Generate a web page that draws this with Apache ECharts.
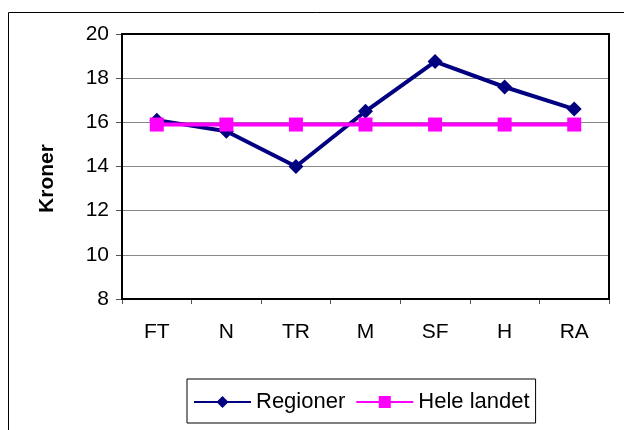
<!DOCTYPE html>
<html>
<head>
<meta charset="utf-8">
<script src="https://cdn.jsdelivr.net/npm/echarts@6/dist/echarts.min.js"></script>
<style>
    html, body { margin: 0; padding: 0; background: #fff; }
    #main { width: 624px; height: 430px; }
</style>
</head>
<body>
<div id="main"></div>
<script>
    var categories = ['FT', 'N', 'TR', 'M', 'SF', 'H', 'RA'];
    var regioner = [16.1, 15.6, 14.0, 16.5, 18.75, 17.6, 16.6];
    var heleLandet = [15.9, 15.9, 15.9, 15.9, 15.9, 15.9, 15.9];
    var seriesNames = ['Regioner', 'Hele landet'];

    var font = 'Arial, "Liberation Sans", sans-serif';

    var chart = echarts.init(document.getElementById('main'));

    var option = {
        animation: false,
        backgroundColor: '#fff',
        graphic: [
            {   // ytre ramme
                type: 'rect',
                shape: {x: 8.5, y: 12.5, width: 640, height: 440},
                style: {fill: null, stroke: '#000', lineWidth: 1}
            },
            {   // ramme rundt plottet
                type: 'rect',
                shape: {x: 122, y: 34, width: 487, height: 265},
                style: {fill: null, stroke: '#000', lineWidth: 2},
                z: 10
            }
        ],
        grid: {
            left: 122,
            right: 15,
            top: 34,
            bottom: 131
        },
        legend: {
            data: seriesNames,
            left: 187,
            top: 379,
            width: 352,
            height: 47,
            padding: [12, 6, 10, 6],
            itemGap: 10,
            itemWidth: 57,
            itemHeight: 15,
            borderColor: '#000',
            borderWidth: 1,
            textStyle: {fontFamily: font, fontSize: 22, color: '#000'}
        },
        xAxis: {
            type: 'category',
            data: categories,
            boundaryGap: true,
            axisLine: {lineStyle: {color: '#000', width: 2}},
            axisTick: {show: true, length: 5, lineStyle: {color: '#555'}},
            axisLabel: {fontFamily: font, fontSize: 21, color: '#000', margin: 23}
        },
        yAxis: {
            type: 'value',
            min: 8,
            max: 20,
            interval: 2,
            name: 'Kroner',
            nameLocation: 'middle',
            nameGap: 64,
            nameTextStyle: {
                fontFamily: font, fontSize: 21, fontWeight: 'bold', color: '#000',
                padding: [0, 24, 0, 0]   // flytter teksten litt ned
            },
            axisLine: {show: true, lineStyle: {color: '#000', width: 2}},
            axisTick: {show: true, length: 6, lineStyle: {color: '#555'}},
            axisLabel: {fontFamily: font, fontSize: 21, color: '#000', margin: 13},
            splitLine: {lineStyle: {color: '#888', width: 1}}
        },
        series: [
            {
                name: seriesNames[0],
                type: 'line',
                data: regioner,
                symbol: 'diamond',
                symbolSize: 15,
                color: '#000080',
                lineStyle: {width: 4, color: '#000080'},
                itemStyle: {color: '#000080'},
                z: 3
            },
            {
                name: seriesNames[1],
                type: 'line',
                data: heleLandet,
                symbol: 'rect',
                symbolSize: 14,
                color: '#FF00FF',
                lineStyle: {width: 4, color: '#FF00FF'},
                itemStyle: {color: '#FF00FF'},
                z: 4
            }
        ]
    };

    chart.setOption(option);
</script>
</body>
</html>
